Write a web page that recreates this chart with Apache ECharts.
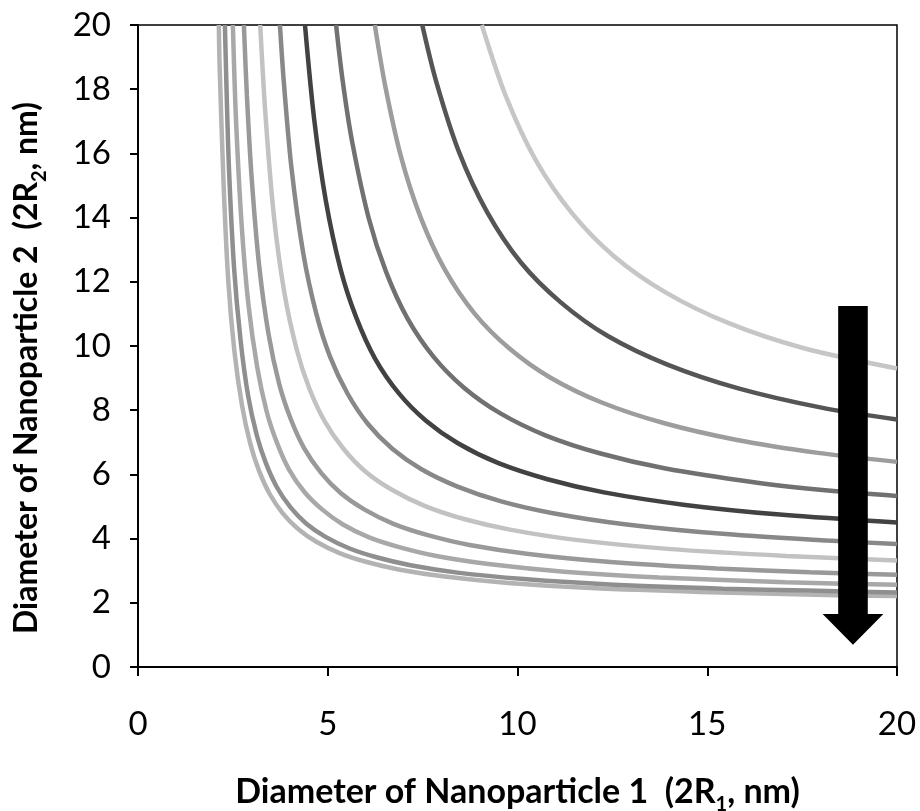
<!DOCTYPE html>
<html>
<head>
<meta charset="utf-8">
<script src="https://cdn.jsdelivr.net/npm/echarts@6/dist/echarts.min.js"></script>
<style>
  html, body { margin: 0; padding: 0; background: #fff; }
  #chart { width: 920px; height: 811px; }
</style>
</head>
<body>
<div id="chart"></div>
<script>
// Axis ranges and tick steps
const xRange = [0, 20];
const yRange = [0, 20];
const xStep = 5;
const yStep = 2;

// Iso-curves: [diameter 1, diameter 2] pairs, nm (lowest curve first)
const curve1 = [[2.13,20],[2.15,18.76],[2.26,14.90],[2.38,12.01],[2.54,9.84],[2.74,8.16],[2.96,6.95],[3.19,6.11],[3.47,5.39],[3.82,4.78],[4.22,4.30],[4.70,3.90],[5.31,3.55],[6.03,3.27],[6.87,3.04],[8.08,2.82],[9.76,2.62],[11.93,2.46],[14.82,2.34],[18.68,2.23],[20,2.21]];
const curve2 = [[2.29,20],[2.34,17.69],[2.40,15.45],[2.53,12.46],[2.70,10.21],[2.90,8.46],[3.13,7.22],[3.37,6.35],[3.66,5.60],[4.02,4.97],[4.43,4.47],[4.93,4.06],[5.56,3.70],[6.31,3.41],[7.18,3.17],[8.42,2.94],[10.17,2.74],[12.42,2.57],[15.41,2.44],[17.65,2.38],[20,2.32]];
const curve3 = [[2.50,20],[2.58,17.12],[2.73,13.79],[2.91,11.29],[3.14,9.35],[3.39,7.96],[3.66,6.99],[3.98,6.15],[4.38,5.46],[4.85,4.91],[5.40,4.44],[6.09,4.04],[6.93,3.72],[7.90,3.45],[9.29,3.20],[11.23,2.97],[13.73,2.79],[17.06,2.64],[20,2.56]];
const curve4 = [[2.79,20],[2.87,17.79],[2.99,15.32],[3.19,12.53],[3.44,10.37],[3.72,8.82],[4.02,7.74],[4.38,6.81],[4.83,6.04],[5.34,5.42],[5.96,4.91],[6.73,4.46],[7.66,4.10],[8.74,3.80],[10.29,3.52],[12.45,3.27],[15.24,3.07],[17.71,2.95],[20,2.87]];
const curve5 = [[3.22,20],[3.36,17.18],[3.58,14.06],[3.86,11.64],[4.18,9.90],[4.51,8.69],[4.92,7.65],[5.42,6.79],[5.99,6.09],[6.69,5.52],[7.55,5.02],[8.59,4.61],[9.80,4.28],[11.54,3.96],[13.96,3.68],[17.08,3.46],[20,3.32]];
const curve6 = [[3.74,20],[3.84,18.26],[4.04,15.59],[4.35,12.92],[4.70,11.00],[5.06,9.67],[5.52,8.52],[6.06,7.57],[6.70,6.80],[7.47,6.16],[8.42,5.62],[9.57,5.16],[10.90,4.80],[12.82,4.45],[15.49,4.14],[18.16,3.94],[20,3.83]];
const curve7 = [[4.40,20],[4.64,17.09],[4.95,14.52],[5.34,12.38],[5.75,10.89],[6.25,9.60],[6.87,8.53],[7.58,7.68],[8.43,6.97],[9.50,6.35],[10.79,5.85],[12.28,5.44],[14.42,5.05],[16.99,4.74],[20,4.50]];
const curve8 = [[5.22,20],[5.39,18.29],[5.64,16.38],[6.08,13.98],[6.54,12.30],[7.10,10.86],[7.79,9.66],[8.59,8.70],[9.55,7.90],[10.75,7.21],[12.19,6.65],[13.87,6.19],[16.27,5.75],[18.18,5.50],[20,5.33]];
const curve9 = [[6.24,20],[6.52,18.07],[6.93,15.90],[7.45,14.00],[8.09,12.37],[8.87,11.01],[9.78,9.93],[10.86,9.02],[12.22,8.24],[13.85,7.60],[15.75,7.08],[17.92,6.67],[20,6.39]];
const curve10 = [[7.49,20],[7.86,18.23],[8.46,16.04],[9.20,14.17],[10.09,12.60],[11.14,11.36],[12.38,10.31],[13.95,9.42],[15.82,8.68],[18.01,8.08],[20,7.71]];
const curve11 = [[9.06,20],[9.69,17.79],[10.48,15.79],[11.44,14.13],[12.55,12.79],[13.89,11.68],[15.55,10.72],[17.55,9.93],[20,9.30]];

const curves = [curve1, curve2, curve3, curve4, curve5, curve6, curve7, curve8, curve9, curve10, curve11];
const lineColors = ['#b3b3b3', '#8f8f8f', '#a8a8a8', '#999999', '#c2c2c2', '#888888', '#424242', '#717171', '#9d9d9d', '#555555', '#c6c6c6'];

// Downward trend arrow, in data units
const arrowSpec = { x: 18.84, top: 11.25, headBase: 1.65, tip: 0.69, shaftHalf: 0.39, headHalf: 0.80 };

const FONT = "Lato, 'Liberation Sans', Arial, sans-serif";

const chart = echarts.init(document.getElementById('chart'), null, { renderer: 'canvas' });

const subStyle = { fontFamily: FONT, fontWeight: 'bold', fontSize: 20, lineHeight: 20, verticalAlign: 'bottom', color: '#000' };

const option = {
  backgroundColor: '#fff',
  animation: false,
  grid: {
    left: 138, right: 23, top: 25, bottom: 144,
    outerBoundsMode: 'none',
    containLabel: false,
    show: true, borderColor: '#000', borderWidth: 1.5, backgroundColor: 'transparent'
  },
  xAxis: {
    type: 'value', min: xRange[0], max: xRange[1], interval: xStep,
    name: 'Diameter of Nanoparticle 1  (2R{s|1}, nm)',
    nameLocation: 'middle', nameGap: 102,
    nameTextStyle: { fontFamily: FONT, fontWeight: 'bold', fontSize: 34, lineHeight: 46, color: '#000', rich: { s: subStyle } },
    axisLine: { lineStyle: { color: '#000', width: 2 } },
    axisTick: { inside: false, length: 9, lineStyle: { color: '#000', width: 2 } },
    axisLabel: { fontFamily: FONT, fontSize: 33, color: '#000', margin: 41 },
    splitLine: { show: false }
  },
  yAxis: {
    type: 'value', min: yRange[0], max: yRange[1], interval: yStep,
    name: 'Diameter of Nanoparticle 2  (2R{s|2}, nm)',
    nameLocation: 'middle', nameGap: 88,
    nameTextStyle: { fontFamily: FONT, fontWeight: 'bold', fontSize: 32, lineHeight: 46, color: '#000', padding: [0, 44, 0, 0], rich: { s: subStyle } },
    axisLine: { lineStyle: { color: '#000', width: 2 } },
    axisTick: { inside: false, length: 8, lineStyle: { color: '#000', width: 2 } },
    axisLabel: { fontFamily: FONT, fontSize: 33, color: '#000', margin: 27 },
    splitLine: { show: false }
  },
  series: curves.map((pts, i) => ({
    type: 'line',
    data: pts,
    smooth: 0.3,
    showSymbol: false,
    lineStyle: { color: lineColors[i], width: 4.5 },
    z: 2
  }))
};

chart.setOption(option);

// Arrow placed from data coordinates through the grid's scales
function px(x, y) { return chart.convertToPixel({ gridIndex: 0 }, [x, y]); }
const a = arrowSpec;
const pts = [
  px(a.x - a.shaftHalf, a.top), px(a.x + a.shaftHalf, a.top),
  px(a.x + a.shaftHalf, a.headBase), px(a.x + a.headHalf, a.headBase),
  px(a.x, a.tip),
  px(a.x - a.headHalf, a.headBase), px(a.x - a.shaftHalf, a.headBase)
];
chart.setOption({
  graphic: [{ type: 'polygon', shape: { points: pts }, style: { fill: '#000' }, z: 10 }]
});
</script>
</body>
</html>
